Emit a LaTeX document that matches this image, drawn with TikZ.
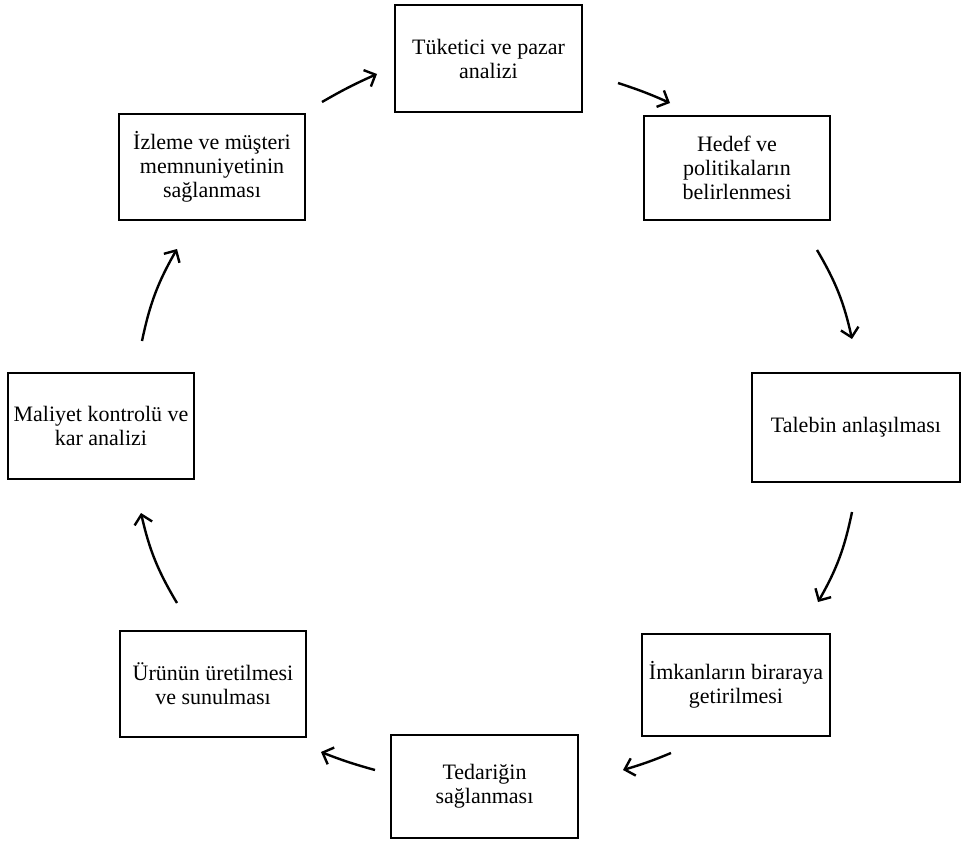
\documentclass[tikz,border=0pt]{standalone}
\usepackage{fontspec}
\setmainfont{Liberation Serif}
\usetikzlibrary{arrows.meta}
\begin{document}
\begin{tikzpicture}[x=1pt,y=-1pt,
  stage/.style={draw, line width=1.8pt, align=center, font=\fontsize{22}{24}\selectfont,
    inner sep=0pt, minimum width=#1},
  stage/.default=186pt,
  flow/.style={line width=2.4pt, -{Straight Barb[length=9pt,width=18pt,line width=2.4pt]}},
]
\useasboundingbox (0,0) rectangle (964,843);

% process stages, clockwise from the top
\node[stage=187pt, minimum height=107pt] (s1) at (488.5,58.5) {Tüketici ve pazar\\analizi};
\node[stage, minimum height=104pt] (s2) at (737,168) {Hedef ve\\politikaların\\belirlenmesi};
\node[stage=208pt, minimum height=109pt] (s3) at (856,427.5) {Talebin anlaşılması};
\node[stage=188pt, minimum height=102pt] (s4) at (736,685) {İmkanların biraraya\\getirilmesi};
\node[stage=187pt, minimum height=103pt] (s5) at (484.5,786.5) {Tedariğin\\sağlanması};
\node[stage, minimum height=106pt] (s6) at (213,684) {Ürünün üretilmesi\\ve sunulması};
\node[stage, minimum height=106pt] (s7) at (101,426) {Maliyet kontrolü ve\\kar analizi};
\node[stage, minimum height=106pt] (s8) at (212,167) {İzleme ve müşteri\\memnuniyetinin\\sağlanması};

% arrow end points between neighbouring stages
\coordinate (a1s) at (618,83);  \coordinate (a1e) at (670,103);
\coordinate (a2s) at (817,250); \coordinate (a2e) at (852,339);
\coordinate (a3s) at (852,512); \coordinate (a3e) at (818,602);
\coordinate (a4s) at (671,753); \coordinate (a4e) at (623,770);
\coordinate (a5s) at (375,770); \coordinate (a5e) at (321,752);
\coordinate (a6s) at (177,603); \coordinate (a6e) at (141,513);
\coordinate (a7s) at (142,341); \coordinate (a7e) at (177,249);
\coordinate (a8s) at (322,102); \coordinate (a8e) at (377,74);

\draw[flow] (a1s) to[bend left=3] (a1e);
\draw[flow] (a2s) to[bend left=9] (a2e);
\draw[flow] (a3s) to[bend left=9] (a3e);
\draw[flow] (a4s) to[bend left=3] (a4e);
\draw[flow] (a5s) to[bend left=3] (a5e);
\draw[flow] (a6s) to[bend left=9] (a6e);
\draw[flow] (a7s) to[bend left=9] (a7e);
\draw[flow] (a8s) to[bend left=3] (a8e);
\end{tikzpicture}
\end{document}
